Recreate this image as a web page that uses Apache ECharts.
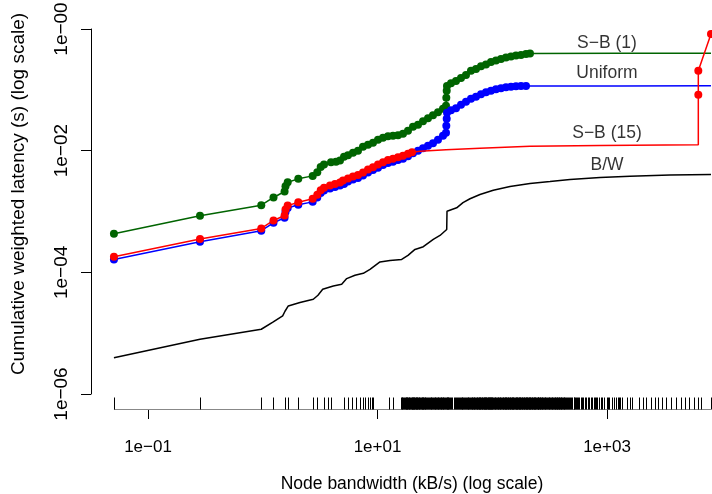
<!DOCTYPE html>
<html>
<head>
<meta charset="utf-8">
<script src="https://cdn.jsdelivr.net/npm/echarts@6/dist/echarts.min.js"></script>
<style>
html, body { margin: 0; padding: 0; background: #fff; }
#chart { width: 712px; height: 494px; }
</style>
</head>
<body>
<div id="chart"></div>
<script>
// node bandwidth (kB/s) vs cumulative weighted latency (s)
var sb1Dots = [
    [0.0505, 4.31e-4], [0.284, 8.50e-4], [0.971, 1.27e-3], [1.241, 1.70e-3], [1.550, 2.13e-3],
    [1.579, 2.60e-3], [1.650, 3.02e-3], [2.041, 3.44e-3], [2.725, 3.85e-3], [2.988, 4.41e-3],
    [3.199, 5.41e-3], [3.419, 5.90e-3], [3.934, 6.48e-3], [4.349, 6.60e-3], [4.712, 6.86e-3],
    [5.107, 7.97e-3], [5.533, 8.44e-3], [6.115, 9.27e-3], [6.761, 1.00e-2], [7.475, 1.16e-2],
    [8.265, 1.25e-2], [9.138, 1.35e-2], [10.10, 1.51e-2], [11.17, 1.63e-2], [12.35, 1.73e-2],
    [13.65, 1.76e-2], [15.09, 1.79e-2], [16.68, 1.90e-2], [18.44, 2.13e-2], [20.39, 2.47e-2],
    [22.54, 2.67e-2], [24.92, 3.05e-2], [27.55, 3.41e-2], [30.45, 3.82e-2], [33.67, 4.28e-2],
    [37.22, 4.88e-2], [39.54, 5.47e-2], [39.79, 7.39e-2], [40.11, 9.63e-2], [40.35, 0.116],
    [43.71, 0.128], [48.32, 0.140], [53.43, 0.157], [59.05, 0.176], [65.28, 0.205],
    [72.18, 0.221], [79.80, 0.243], [88.22, 0.262], [97.52, 0.288], [107.8, 0.304],
    [119.2, 0.322], [131.8, 0.341], [145.7, 0.354], [161.1, 0.368], [178.1, 0.375],
    [196.9, 0.389], [213.3, 0.397]
];
var sb1Tail = [[1298, 0.398], [8058, 0.400]];

var uniformDots = [
    [0.0505, 1.63e-4], [0.284, 3.19e-4], [0.971, 4.83e-4], [1.241, 6.53e-4], [1.550, 7.88e-4],
    [1.579, 9.81e-4], [1.650, 1.14e-3], [2.041, 1.29e-3], [2.725, 1.44e-3], [2.988, 1.70e-3],
    [3.199, 2.01e-3], [3.419, 2.21e-3], [3.856, 2.38e-3], [4.263, 2.52e-3], [4.712, 2.67e-3],
    [5.107, 2.82e-3], [5.533, 3.10e-3], [6.115, 3.35e-3], [6.761, 3.54e-3], [7.475, 3.89e-3],
    [8.265, 4.36e-3], [9.138, 4.79e-3], [10.10, 5.26e-3], [11.17, 5.79e-3], [12.35, 6.24e-3],
    [13.65, 6.60e-3], [15.09, 6.99e-3], [16.68, 7.39e-3], [18.44, 8.12e-3], [20.39, 9.10e-3],
    [22.54, 1.00e-2], [24.92, 1.10e-2], [27.55, 1.21e-2], [30.45, 1.33e-2], [33.67, 1.51e-2],
    [37.22, 1.76e-2], [39.54, 1.97e-2], [39.79, 2.57e-2], [40.11, 3.35e-2], [40.35, 4.20e-2],
    [43.71, 4.61e-2], [48.32, 4.97e-2], [53.43, 5.68e-2], [59.05, 6.36e-2], [65.28, 7.12e-2],
    [72.18, 7.68e-2], [79.80, 8.44e-2], [88.22, 9.10e-2], [97.52, 9.63e-2], [107.8, 0.102],
    [119.2, 0.106], [131.8, 0.110], [145.7, 0.112], [161.1, 0.114], [178.1, 0.116],
    [196.9, 0.116]
];
var uniformTail = [[1298, 0.116], [8058, 0.117]];

var sb15Dots = [
    [0.0505, 1.81e-4], [0.284, 3.52e-4], [0.971, 5.26e-4], [1.241, 7.12e-4], [1.550, 8.60e-4],
    [1.579, 1.08e-3], [1.650, 1.25e-3], [2.041, 1.42e-3], [2.725, 1.62e-3], [2.988, 1.88e-3],
    [3.199, 2.24e-3], [3.419, 2.45e-3], [3.856, 2.67e-3], [4.263, 2.82e-3], [4.712, 2.99e-3],
    [5.004, 3.22e-3], [5.533, 3.48e-3], [6.115, 3.75e-3], [6.761, 3.97e-3], [7.475, 4.36e-3],
    [8.265, 4.88e-3], [9.138, 5.36e-3], [10.10, 5.90e-3], [11.17, 6.48e-3], [12.35, 6.99e-3],
    [13.65, 7.39e-3], [15.09, 7.82e-3], [16.68, 8.28e-3], [18.44, 8.93e-3], [19.98, 9.45e-3]
];
var sb15Tail = [[23.46, 9.81e-3], [39.54, 1.04e-2], [78.21, 1.10e-2], [213.3, 1.18e-2], [869, 1.22e-2], [6250, 1.25e-2]];
var sb15End = [[6250, 8.28e-2], [6250, 0.205], [8058, 0.828]];

var bwLine = [
    [0.0505, 3.94e-6], [0.284, 7.97e-6], [0.971, 1.16e-5], [1.236, 1.53e-5], [1.492, 1.92e-5],
    [1.563, 2.29e-5], [1.670, 2.80e-5], [2.111, 3.19e-5], [2.758, 3.61e-5], [3.030, 4.20e-5],
    [3.330, 5.26e-5], [4.120, 5.96e-5], [4.875, 6.36e-5], [5.391, 7.88e-5], [6.366, 8.93e-5],
    [7.521, 9.63e-5], [8.603, 1.12e-4], [10.51, 1.48e-4], [12.85, 1.57e-4], [16.25, 1.63e-4],
    [18.44, 1.90e-4], [21.22, 2.38e-4], [25.09, 2.64e-4], [30.63, 3.48e-4], [35.05, 4.04e-4],
    [40.11, 5.07e-4], [40.35, 1.01e-3], [48.99, 1.15e-3], [55.61, 1.40e-3], [63.99, 1.62e-3],
    [78.21, 1.90e-3], [102.1, 2.24e-3], [142.8, 2.57e-3], [213.3, 2.88e-3], [318.7, 3.10e-3],
    [476.0, 3.35e-3], [869.0, 3.61e-3], [1586, 3.79e-3], [3540, 3.97e-3], [8058, 4.04e-3]
];

// one tick per node on the bandwidth axis
var rugBandwidth = [
    0.0505, 0.284, 0.971, 1.241, 1.55, 1.65, 2.041, 2.725, 2.988, 3.4, 3.72, 3.97,
    5.1, 5.5, 6.0, 6.5, 7.0, 7.5, 7.8, 8.2, 8.6, 9.0, 9.2, 12.5, 13.6,
    16, 16.2, 16.5, 16.8, 17, 17.3, 17.6, 17.8, 18, 18.2, 18.4, 18.7, 19, 19.2, 19.5, 19.8,
    20, 20.2, 20.5, 20.8, 21, 21.3, 21.6, 21.8, 22, 22.2, 22.5, 22.8, 23, 23.5, 24, 24.2,
    24.5, 24.8, 25, 25.5, 26, 26.2, 26.5, 27, 27.5, 28, 28.5, 29, 29.5, 30, 30.5, 31, 31.5,
    32, 32.5, 33, 33.5, 34, 34.5, 35, 35.5, 36, 36.5, 37, 37.5, 38, 39, 39.5, 40, 40.5, 41,
    41.5, 42, 43, 44, 45, 46, 47, 48, 49, 50, 51, 52, 53, 54, 55, 56, 57, 58, 59, 60, 61,
    62, 63, 64, 65, 66, 67, 68, 69, 70, 71, 72, 73, 74, 75, 76, 77, 78, 79, 80, 81, 82, 83,
    84, 85, 86, 87, 88, 89, 90, 91, 92, 93, 94, 95, 96, 97, 98, 99, 100, 101, 103, 105,
    106, 108, 110, 112, 113, 115, 117, 118, 120, 122, 124, 125, 127, 128, 130, 132, 133,
    135, 136, 138, 140, 142, 143, 146, 148, 150, 152, 153, 156, 158, 160, 162, 164, 166,
    168, 170, 172, 174, 176, 178, 180, 182, 185, 188, 190, 192, 195, 198, 200, 202, 205,
    208, 210, 212, 215, 218, 220, 224, 226, 230, 232, 235, 238, 240, 244, 248, 250, 253,
    256, 260, 262, 266, 270, 274, 278, 282, 286, 290, 295, 300, 305, 310, 315, 320, 325,
    330, 335, 340, 345, 350, 355, 360, 365, 370, 375, 380, 385, 390, 395, 400, 405, 410,
    420, 425, 430, 440, 450, 460, 470, 480, 490, 500, 512, 520, 530, 540, 550, 560, 575,
    590, 600, 620, 640, 660, 680, 700, 720, 740, 768, 780, 800, 820, 850, 880, 900, 950,
    1000, 1024, 1050, 1100, 1150, 1200, 1250, 1280, 1300, 1350,
    1500, 1600, 1650, 1900, 2048, 2200, 2400, 2600, 2800, 3000, 3300, 3600, 4000, 4400,
    4800, 5200, 5700, 6250, 6600, 8058
];

var curveNames = ['S\u2212B (1)', 'Uniform', 'S\u2212B (15)', 'B/W'];
var curveNameX = [1000, 1000, 1000, 1000];
var curveNameY = [0.589, 0.190, 0.0197, 0.00568];

// labelled axes span 1e-01..1e+03 and 1e-06..1e-00; the plot area reaches a bit further
var xMin = 0.1, xMax = 1000, yMin = 1e-6, yMax = 1;
var plotXMin = 0.031871, plotXMax = 8225, plotYMin = 5.666e-7, plotYMax = 1;
var FONT = '"Liberation Sans", Arial, Helvetica, sans-serif';

var myChart = echarts.init(document.getElementById('chart'));

function dots(arr) {
    return arr.map(function (p) { return { value: p }; });
}
function plain(arr) {
    return arr.map(function (p) { return { value: p, symbol: 'none' }; });
}
function expLabel(v) {
    var e = Math.round(Math.log(v) / Math.LN10);
    var s = String(Math.abs(e));
    if (s.length < 2) s = '0' + s;
    return (e > 0 ? '1e+' : '1e\u2212') + s;
}
function curve(color, data, z) {
    return {
        type: 'line',
        data: data,
        symbol: 'circle',
        symbolSize: 8,
        showAllSymbol: true,
        clip: false,
        z: z,
        lineStyle: { color: color, width: 1.5 },
        itemStyle: { color: color },
        emphasis: { disabled: true },
        silent: true
    };
}

var option = {
    backgroundColor: '#fff',
    animation: false,
    grid: [
        { left: 91, right: 0, top: 29, bottom: 85, outerBoundsMode: 'none', containLabel: false },
        { left: 148, right: 105, top: 29, bottom: 100, outerBoundsMode: 'none', containLabel: false }
    ],
    xAxis: [{
        type: 'log', gridIndex: 0, show: false,
        min: plotXMin, max: plotXMax
    }, {
        type: 'log',
        gridIndex: 1,
        logBase: 10,
        min: xMin,
        max: xMax,
        interval: 2,
        offset: 15,
        name: 'Node bandwidth (kB/s) (log scale)',
        nameLocation: 'middle',
        nameGap: 66,
        nameTextStyle: { color: '#000', fontSize: 17.5, fontFamily: FONT, padding: [0, 0, 0, 69] },
        axisLine: { show: true, lineStyle: { color: '#000', width: 1 } },
        axisTick: { show: true, length: 10, lineStyle: { color: '#000' } },
        axisLabel: { margin: 30, color: '#000', fontSize: 17, fontFamily: FONT, formatter: expLabel },
        splitLine: { show: false },
        minorTick: { show: false }
    }],
    yAxis: [{
        type: 'log', gridIndex: 0, show: false,
        min: plotYMin, max: plotYMax
    }, {
        type: 'log',
        gridIndex: 1,
        logBase: 10,
        min: yMin,
        max: yMax,
        interval: 2,
        offset: 57,
        name: 'Cumulative weighted latency (s) (log scale)',
        nameLocation: 'middle',
        nameRotate: 90,
        nameGap: 63,
        nameTextStyle: { color: '#000', fontSize: 19, fontFamily: FONT, padding: [0, 0, 0, 35] },
        axisLine: { show: true, lineStyle: { color: '#000', width: 1 } },
        axisTick: { show: true, length: 10, lineStyle: { color: '#000' } },
        axisLabel: { rotate: 90, margin: 20, color: '#000', fontSize: 19, fontFamily: FONT, formatter: expLabel },
        splitLine: { show: false }
    }],
    series: [
        curve('#000000', plain(bwLine), 2),
        curve('#006400', dots(sb1Dots).concat(plain(sb1Tail)), 3),
        curve('#0000ff', dots(uniformDots).concat(plain(uniformTail)), 4),
        curve('#ff0000', dots(sb15Dots).concat(plain(sb15Tail), dots(sb15End)), 5),
        {
            // rug along the bottom edge of the plot area
            type: 'custom',
            silent: true,
            z: 6,
            data: rugBandwidth.map(function (v) { return [v]; }),
            renderItem: function (params, api) {
                var p = api.coord([api.value(0), plotYMin]);
                var x = Math.round(p[0]) + 0.5;
                var base = Math.round(p[1]) + 0.5;
                var tick = {
                    type: 'line',
                    shape: { x1: x, y1: base, x2: x, y2: base - 12 },
                    style: { stroke: '#000', lineWidth: 1 }
                };
                if (params.dataIndex !== 0) return tick;
                var a = api.coord([rugBandwidth[0], plotYMin]);
                var b = api.coord([rugBandwidth[rugBandwidth.length - 1], plotYMin]);
                return {
                    type: 'group',
                    children: [{
                        type: 'line',
                        shape: { x1: a[0], y1: base, x2: b[0], y2: base },
                        style: { stroke: '#888', lineWidth: 1 }
                    }, tick]
                };
            }
        },
        {
            type: 'scatter',
            silent: true,
            z: 7,
            symbolSize: 0,
            clip: false,
            data: curveNames.map(function (n, i) {
                return { name: n, value: [curveNameX[i], curveNameY[i]] };
            }),
            label: {
                show: true,
                position: 'inside',
                formatter: '{b}',
                color: '#000',
                fontSize: 17.5,
                fontFamily: FONT
            }
        }
    ]
};

myChart.setOption(option);
</script>
</body>
</html>
